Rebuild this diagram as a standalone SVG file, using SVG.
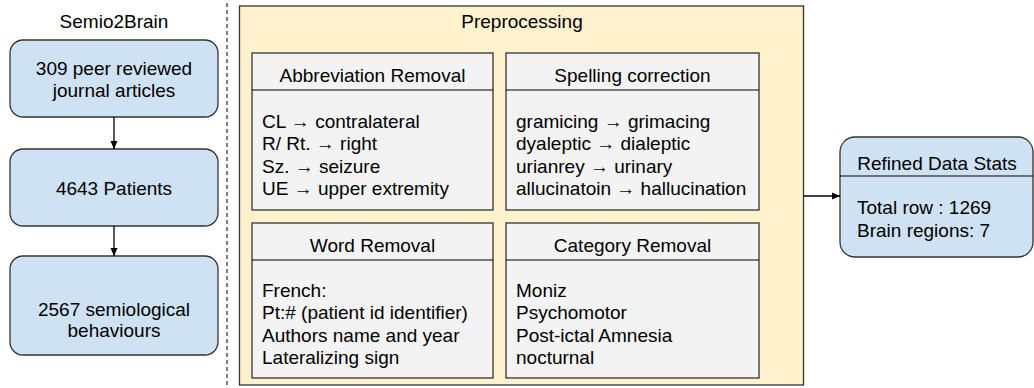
<svg xmlns="http://www.w3.org/2000/svg" width="1034" height="388" viewBox="0 0 1034 388">
<defs>
<marker id="arr" markerWidth="10" markerHeight="10" refX="9" refY="5" orient="auto" markerUnits="userSpaceOnUse">
<path d="M1,1.5 L9,5 L1,8.5 Z" fill="#000"/>
</marker>
<style>
text{font-family:"Liberation Sans",Arial,sans-serif;font-size:19px;fill:#000}
.c{text-anchor:middle}
.blue{fill:#cfe2f3;stroke:#333;stroke-width:1.3}
.grey{fill:#f3f3f3;stroke:#333;stroke-width:1.3}
.hdr{stroke:#000;stroke-width:1.2;fill:none}
.conn{stroke:#000;stroke-width:1.3;fill:none;marker-end:url(#arr)}
</style>
</defs>
<rect width="1034" height="388" fill="#fff"/>

<text class="c" x="114" y="28">Semio2Brain</text>
<line x1="227" y1="3" x2="227" y2="386" stroke="#000" stroke-width="1" stroke-dasharray="4,3"/>

<g id="n-articles">
<rect class="blue" x="10" y="40" width="208" height="77" rx="13"/>
<text class="c" x="114" y="75">309 peer reviewed</text>
<text class="c" x="114" y="97">journal articles</text>
</g>
<g id="n-patients">
<rect class="blue" x="10" y="149" width="208" height="77" rx="13"/>
<text class="c" x="114" y="195">4643 Patients</text>
</g>
<g id="n-behaviours">
<rect class="blue" x="10" y="256" width="208" height="99" rx="13"/>
<text class="c" x="114" y="316">2567 semiological</text>
<text class="c" x="114" y="337">behaviours</text>
</g>

<g id="n-preprocessing">
<rect x="239.5" y="6" width="564" height="379" fill="#fff2cc" stroke="#333" stroke-width="1.3"/>
<text class="c" x="522" y="28">Preprocessing</text>
</g>

<g id="n-abbrev">
<rect class="grey" x="252" y="53" width="241" height="157"/>
<line class="hdr" x1="252" y1="90" x2="493" y2="90"/>
<text class="c" x="372.5" y="82">Abbreviation Removal</text>
<text x="262" y="128">CL → contralateral</text>
<text x="262" y="150">R/ Rt. → right</text>
<text x="262" y="173">Sz. → seizure</text>
<text x="262" y="195">UE → upper extremity</text>
</g>

<g id="n-spelling">
<rect class="grey" x="506" y="53" width="253" height="157"/>
<line class="hdr" x1="506" y1="90" x2="759" y2="90"/>
<text class="c" x="632.5" y="82">Spelling correction</text>
<text x="516" y="128">gramicing → grimacing</text>
<text x="516" y="150">dyaleptic → dialeptic</text>
<text x="516" y="173">urianrey → urinary</text>
<text x="516" y="195">allucinatoin → hallucination</text>
</g>

<g id="n-word">
<rect class="grey" x="252" y="223" width="241" height="155"/>
<line class="hdr" x1="252" y1="260" x2="493" y2="260"/>
<text class="c" x="372.5" y="252">Word Removal</text>
<text x="262" y="297">French:</text>
<text x="262" y="319">Pt:# (patient id identifier)</text>
<text x="262" y="342">Authors name and year</text>
<text x="262" y="364">Lateralizing sign</text>
</g>

<g id="n-category">
<rect class="grey" x="506" y="223" width="253" height="155"/>
<line class="hdr" x1="506" y1="260" x2="759" y2="260"/>
<text class="c" x="632.5" y="252">Category Removal</text>
<text x="516" y="297">Moniz</text>
<text x="516" y="319">Psychomotor</text>
<text x="516" y="342">Post-ictal Amnesia</text>
<text x="516" y="364">nocturnal</text>
</g>

<g id="n-refined">
<rect class="blue" x="840" y="137" width="193" height="120" rx="15"/>
<line class="hdr" x1="840" y1="176" x2="1033" y2="176"/>
<text class="c" x="937" y="170">Refined Data Stats</text>
<text x="857" y="214">Total row : 1269</text>
<text x="857" y="237">Brain regions: 7</text>
</g>

<g id="connectors">
<line class="conn" x1="114" y1="117" x2="114" y2="149"/>
<line class="conn" x1="114" y1="226" x2="114" y2="256"/>
<line class="conn" x1="804" y1="196" x2="840" y2="196"/>
</g>
</svg>
